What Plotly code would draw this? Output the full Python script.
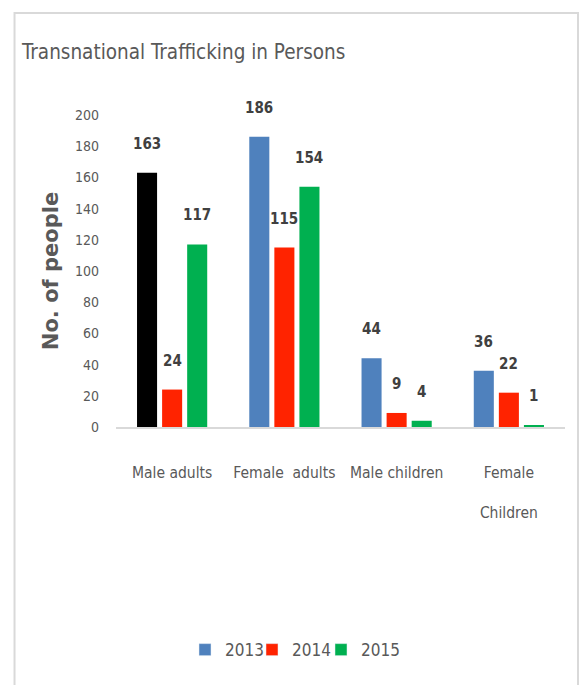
import plotly.graph_objects as go

# Chart data
categories = ["Male adults", "Female  adults", "Male children", "Female<br><br>Children"]
years = ["2013", "2014", "2015"]
values_2013 = [163, 186, 44, 36]
values_2014 = [24, 115, 9, 22]
values_2015 = [117, 154, 4, 1]
y_ticks = [0, 20, 40, 60, 80, 100, 120, 140, 160, 180, 200]

BLUE = "#4F81BD"
RED = "#FF2300"
GREEN = "#00B050"
colors_2013 = ["#000000", BLUE, BLUE, BLUE]

FONT = "Liberation Sans Narrow, DejaVu Sans Condensed, Arial Narrow, sans-serif"
GRAY = "#595959"

series = [
    ("2013", values_2013, colors_2013, BLUE),
    ("2014", values_2014, [RED] * 4, RED),
    ("2015", values_2015, [GREEN] * 4, GREEN),
]
legend_ids = ["legend", "legend2", "legend3"]
legend_left_px = [185, 252, 321]

fig = go.Figure()
for (name, vals, cols, legend_col), lid in zip(series, legend_ids):
    fig.add_trace(go.Bar(
        name=name, x=categories, y=vals, offsetgroup=name,
        marker=dict(color=cols, line=dict(width=0)),
        showlegend=False,
    ))
    # legend entry with a single colour, sharing the series' slot
    fig.add_trace(go.Bar(
        name=name, x=[None], y=[None], offsetgroup=name,
        marker=dict(color=legend_col),
        showlegend=True, legend=lid,
    ))

# Value labels above each bar
offsets = [-25, 0, 25]
for (name, vals, _, _), dx in zip(series, offsets):
    for cat, v in zip(categories, vals):
        fig.add_annotation(
            x=cat, y=v, text=f"<b>{v}</b>", showarrow=False,
            xshift=dx, yshift=18, yanchor="bottom",
            font=dict(family=FONT, size=15, color="#404040"),
        )

fig.add_shape(
    type="rect", xref="paper", yref="paper",
    x0=-0.226, x1=1.029, y0=-0.9, y1=1.327,
    line=dict(color="#D9D9D9", width=2), layer="below",
)

PLOT_L, PLOT_W = 116, 449
legend_style = dict(
    orientation="h", xanchor="left", y=-0.715, yanchor="middle",
    font=dict(family=FONT, size=17, color=GRAY),
    itemwidth=30, bgcolor="rgba(0,0,0,0)",
)
legends = {
    lid: dict(legend_style, x=(px - PLOT_L) / PLOT_W)
    for lid, px in zip(legend_ids, legend_left_px)
}

fig.update_layout(
    width=579, height=685,
    margin=dict(l=PLOT_L, r=14, t=115, b=258),
    paper_bgcolor="white", plot_bgcolor="white",
    barmode="group", bargap=0.33, bargroupgap=0.2,
    title=dict(
        text="Transnational Trafficking in Persons",
        x=22 / 579, xanchor="left", y=1 - 52 / 685, yanchor="middle",
        font=dict(family=FONT, size=20.5, color=GRAY),
    ),
    xaxis=dict(
        showline=True, linecolor="#D9D9D9", linewidth=2,
        ticks="", tickfont=dict(family=FONT, size=15.5, color=GRAY),
        ticklabelstandoff=30,
    ),
    yaxis=dict(
        range=[0, 200], tickvals=y_ticks, showgrid=False, zeroline=False,
        showline=False, ticks="",
        tickfont=dict(family=FONT, size=14, color=GRAY),
        ticklabelstandoff=16,
        title=dict(
            text="<b>No. of people</b>",
            font=dict(family="DejaVu Sans, sans-serif", size=21, color=GRAY),
            standoff=10,
        ),
    ),
    **legends,
)

fig.write_html("out.html")
